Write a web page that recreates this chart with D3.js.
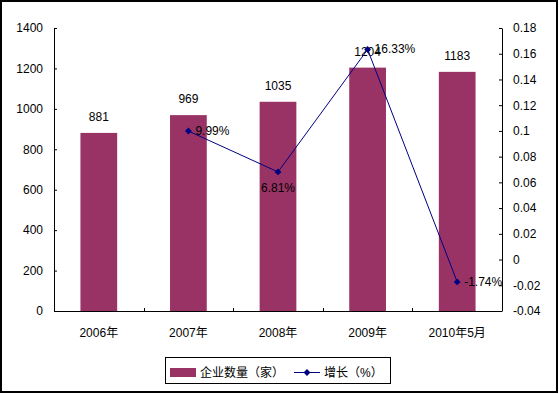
<!DOCTYPE html>
<html><head><meta charset="utf-8">
<script src="https://cdn.jsdelivr.net/npm/d3@7"></script>
<style>
html,body{margin:0;padding:0;background:#fff;}
text{font-family:"Liberation Sans",Arial,"Noto Sans CJK SC",sans-serif;font-size:12px;fill:#000;}
</style></head>
<body><svg id="c" width="559" height="394"></svg>
<script>
const categories = ["2006年","2007年","2008年","2009年","2010年5月"];
const companyCounts = [881, 969, 1035, 1204, 1183];
const growthValues = [null, 0.0999, 0.0681, 0.1633, -0.0174];
const growthLabelPos = [null, "right", "below", "right", "right"];
const leftTicks = [0,200,400,600,800,1000,1200,1400];
const rightTicks = [-0.04,-0.02,0,0.02,0.04,0.06,0.08,0.1,0.12,0.14,0.16,0.18];
const seriesNames = ["企业数量（家）","增长（%）"];

const barColor = "#993366", lineColor = "#000080";
const svg = d3.select("#c");
svg.append("rect").attr("x",1).attr("y",1).attr("width",556).attr("height",391)
  .attr("fill","#fff").attr("stroke","#000").attr("stroke-width",2);

const L = 54, R = 502, T = 28, B = 311;
const x = d3.scaleBand().domain(categories).range([L,R]).paddingInner(0.59).paddingOuter(0.295);
const xc = d3.scalePoint().domain(categories).range([L,R]).padding(0.5);
const yL = d3.scaleLinear().domain([0,1400]).range([B,T]);
const yR = d3.scaleLinear().domain([-0.04,0.18]).range([B,T]);

// bars
svg.append("g").selectAll("rect").data(categories).join("rect")
  .attr("x", d=>x(d)).attr("width", x.bandwidth())
  .attr("y", (d,i)=>yL(companyCounts[i])).attr("height",(d,i)=>B-yL(companyCounts[i]))
  .attr("fill", barColor);

// axes
const gl = svg.append("g").attr("transform",`translate(${L},0)`)
  .call(d3.axisLeft(yL).tickValues(leftTicks).tickSize(-3).tickSizeOuter(0).tickPadding(11).tickFormat(d3.format("d")));
const gr = svg.append("g").attr("transform",`translate(${R},0)`)
  .call(d3.axisRight(yR).tickValues(rightTicks).tickSize(-3).tickSizeOuter(0).tickPadding(11).tickFormat(d=>String(+d.toFixed(2))));
[gl,gr].forEach(g=>{
  g.selectAll("path,line").attr("stroke","#000");
  g.selectAll("text").attr("font-size",12).style("font-family",'"Liberation Sans",Arial,sans-serif');
});
// x axis
const gx = svg.append("g");
gx.append("line").attr("x1",L).attr("x2",R).attr("y1",B+0.5).attr("y2",B+0.5).attr("stroke","#000");
d3.range(1,categories.length).forEach(i=>{
  const tx = Math.round(L + i*x.step())+0.5;
  gx.append("line").attr("x1",tx).attr("x2",tx).attr("y1",B).attr("y2",B-3).attr("stroke","#000");
});
gx.selectAll("text").data(categories).join("text")
  .attr("x", d=>xc(d)).attr("y", 337).attr("text-anchor","middle").text(d=>d);

// bar labels
svg.append("g").selectAll("text").data(categories).join("text")
  .attr("x", d=>xc(d)).attr("y",(d,i)=>yL(companyCounts[i])-12).attr("text-anchor","middle")
  .text((d,i)=>companyCounts[i]);

// line
const pts = categories.map((c,i)=>({c, v:growthValues[i], pos:growthLabelPos[i]})).filter(d=>d.v!==null);
svg.append("path").datum(pts)
  .attr("d", d3.line().x(d=>xc(d.c)).y(d=>yR(d.v)))
  .attr("fill","none").attr("stroke",lineColor).attr("stroke-width",1);
svg.append("g").selectAll("path").data(pts).join("path")
  .attr("transform", d=>`translate(${xc(d.c)},${yR(d.v)})`)
  .attr("d", d3.symbol(d3.symbolDiamond2, 30)).attr("fill",lineColor);
svg.append("g").selectAll("text").data(pts).join("text")
  .attr("x", d=> d.pos==="below" ? xc(d.c) : xc(d.c)+7)
  .attr("y", d=> d.pos==="below" ? yR(d.v)+20 : yR(d.v)+4)
  .attr("text-anchor", d=> d.pos==="below" ? "middle" : "start")
  .text(d=> (d.v*100).toFixed(2)+"%");

// legend
const lg = svg.append("g");
lg.append("rect").attr("x",165.5).attr("y",357.5).attr("width",225).attr("height",26)
  .attr("fill","#fff").attr("stroke","#000");
lg.append("rect").attr("x",170).attr("y",368).attr("width",26).attr("height",9).attr("fill",barColor);
lg.append("text").attr("x",200).attr("y",377).text(seriesNames[0]);
lg.append("line").attr("x1",294).attr("x2",320).attr("y1",372.5).attr("y2",372.5).attr("stroke",lineColor);
lg.append("path").attr("transform","translate(307,372.5)").attr("d", d3.symbol(d3.symbolDiamond2,30)).attr("fill",lineColor);
lg.append("text").attr("x",324).attr("y",377).text(seriesNames[1]);
</script></body></html>
